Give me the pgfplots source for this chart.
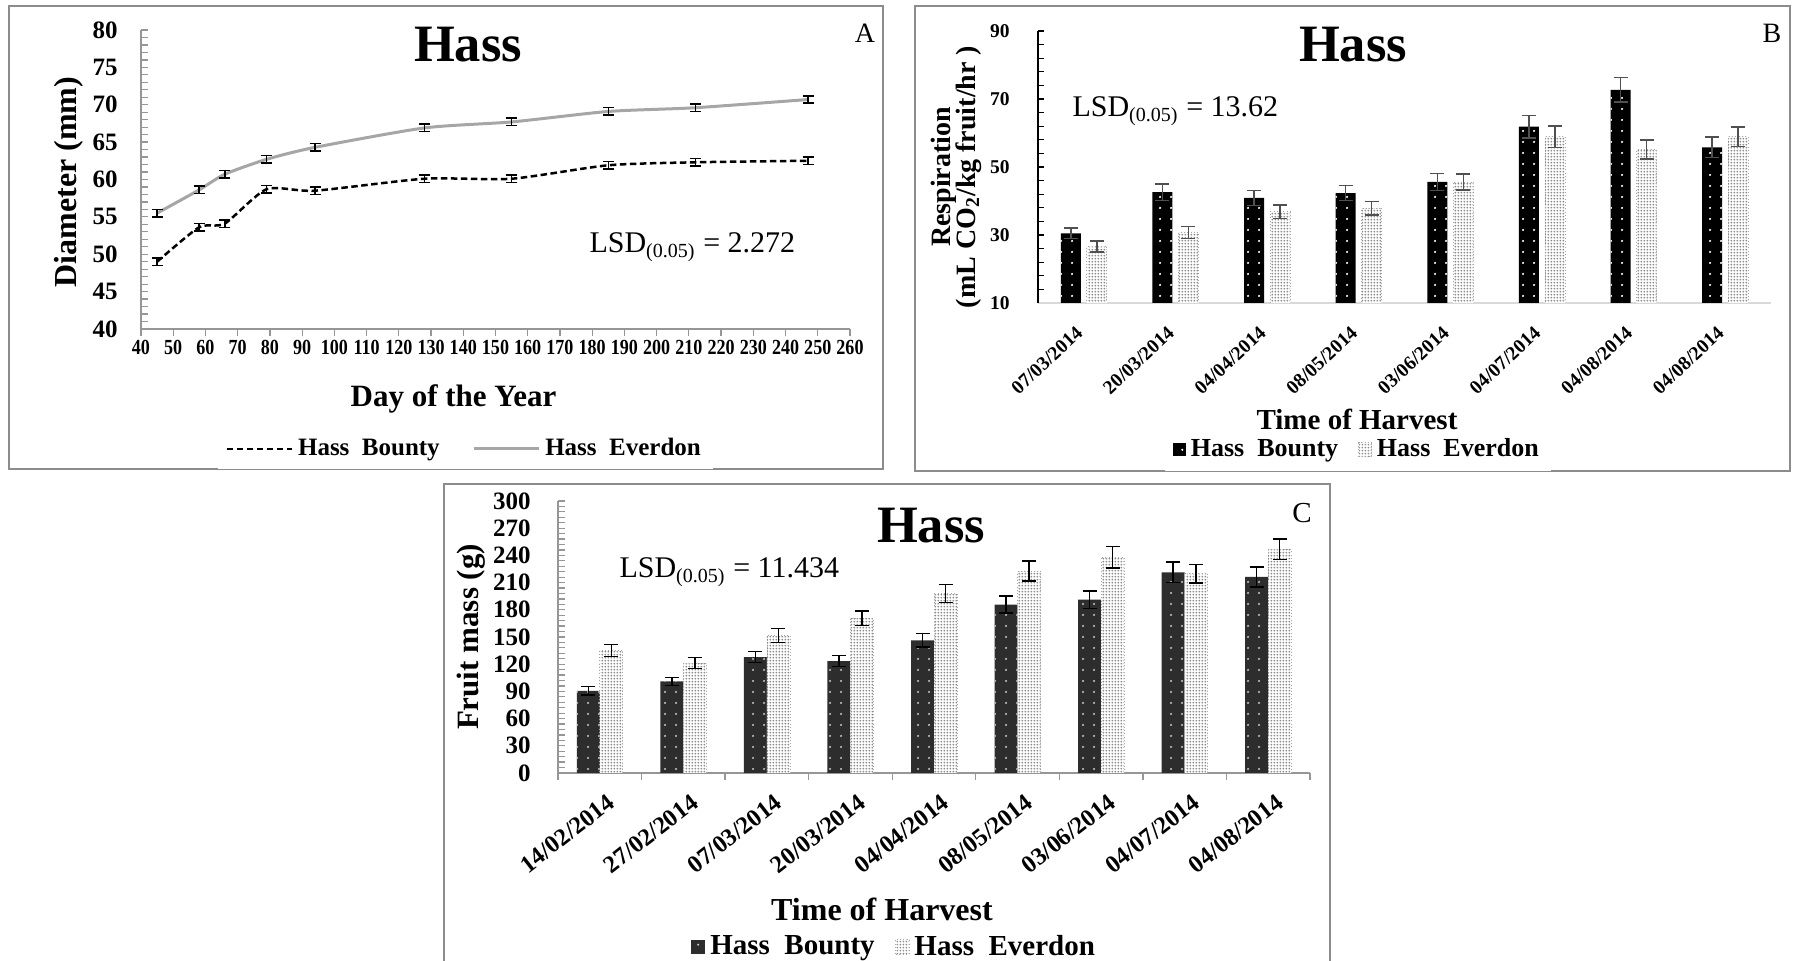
\documentclass[border=0pt]{standalone}
\usepackage{pgfplots}
\pgfplotsset{compat=1.18}
\usepackage{graphicx}
\usepackage{fontspec}
\setmainfont{Liberation Serif}
\usetikzlibrary{patterns}
\definecolor{framegray}{RGB}{140,140,140}
\definecolor{axisgray}{RGB}{150,150,150}
\definecolor{linegray}{RGB}{166,166,166}
\definecolor{ebgray}{RGB}{80,80,80}
\definecolor{cdark}{RGB}{45,45,45}
\pgfdeclarepatternformonly{sparsedots}{\pgfqpoint{0pt}{0pt}}{\pgfqpoint{4.4pt}{4.4pt}}{\pgfqpoint{4.4pt}{4.4pt}}{\pgfpathcircle{\pgfqpoint{2.2pt}{2.2pt}}{0.5pt}\pgfusepath{fill}}
\pgfdeclarepatternformonly{densedots}{\pgfqpoint{0pt}{0pt}}{\pgfqpoint{1.3pt}{1.3pt}}{\pgfqpoint{1.3pt}{1.3pt}}{\pgfpathcircle{\pgfqpoint{0.65pt}{0.65pt}}{0.46pt}\pgfusepath{fill}}
\newcommand\fs[1]{\fontsize{#1}{#1}\selectfont}
\begin{document}
\begin{tikzpicture}
\useasboundingbox (0,0) rectangle (717.6pt,384.4pt);
% frames
\draw[framegray, line width=0.8pt] (3.6pt,196.8pt) rectangle (353.2pt,382pt);
\draw[framegray, line width=0.8pt] (366pt,196pt) rectangle (716pt,382pt);
\draw[framegray, line width=0.8pt] (177.6pt,-2pt) -- (177.6pt,190.8pt) -- (532pt,190.8pt) -- (532pt,-2pt);

% ---------------- Panel A ----------------
\begin{axis}[at={(56.4pt,252.8pt)}, anchor=south west, scale only axis,
  width=283.6pt, height=119.6pt,
  xmin=40, xmax=260, ymin=40, ymax=80,
  axis lines*=left, axis line style={axisgray, line width=0.6pt},
  xtick={40,50,...,260}, ytick={40,45,...,80}, minor y tick num=4,
  xtick align=outside, ytick align=inside,
  tick style={axisgray, line width=0.5pt},
  major tick length=2.8pt, minor tick length=2.8pt,
  /pgf/number format/assume math mode=true,
  xticklabel={\scalebox{0.84}[1]{\pgfmathprintnumber{\tick}}},
  x tick label style={font=\bfseries\fs{8.6}, inner sep=0pt, anchor=north, yshift=-1.6pt},
  y tick label style={font=\bfseries\fs{10}, inner sep=0pt, anchor=east, xshift=-9.2pt},
  legend columns=2,
  legend style={draw=none, at={(0.458,-0.401)}, anchor=center, font=\bfseries\fs{10},
    /tikz/every even column/.append style={column sep=11pt}},
  legend image code/.code={\draw[#1] (0pt,0pt) -- (26pt,0pt);},
  error bars/y dir=both, error bars/y explicit,
  error bars/error bar style={black, solid, line width=0.6pt},
  error bars/error mark options={black, solid, rotate=90, mark size=2.2pt, line width=0.6pt},
]
\addplot[black, line width=1pt, dash pattern=on 2.6pt off 1.4pt, smooth, tension=0.4, mark=none]
  coordinates {(45,49.0) +- (0,0.5) (58,53.6) +- (0,0.5) (66,54.1) +- (0,0.5) (79,58.7) +- (0,0.5) (94,58.5) +- (0,0.5)
  (128,60.1) +- (0,0.5) (155,60.1) +- (0,0.5) (185,61.9) +- (0,0.5) (212,62.3) +- (0,0.5) (247,62.5) +- (0,0.5)};
\addlegendentry{Hass~~Bounty}
\addplot[linegray, line width=1.2pt, smooth, tension=0.4, mark=none]
  coordinates {(45,55.5) +- (0,0.5) (58,58.6) +- (0,0.5) (66,60.7) +- (0,0.5) (79,62.7) +- (0,0.5) (94,64.3) +- (0,0.5)
  (128,66.9) +- (0,0.5) (155,67.7) +- (0,0.5) (185,69.1) +- (0,0.5) (212,69.6) +- (0,0.5) (247,70.7) +- (0,0.5)};
\addlegendentry{Hass~~Everdon}
\end{axis}

% ---------------- Panel B ----------------
\begin{axis}[at={(415.2pt,263.2pt)}, anchor=south west, scale only axis,
  width=293.2pt, height=108.8pt,
  xmin=-0.5, xmax=7.5, ymin=10, ymax=90,
  axis lines*=left,
  x axis line style={gray!30, line width=0.6pt},
  y axis line style={black, line width=0.6pt},
  ytick={10,30,...,90}, minor y tick num=4, ytick align=inside,
  y tick style={black, line width=0.5pt},
  major tick length=2.4pt, minor tick length=2.4pt,
  xtick={0,...,7}, x tick style={draw=none},
  xticklabels={07/03/2014,20/03/2014,04/04/2014,08/05/2014,03/06/2014,04/07/2014,04/08/2014,04/08/2014},
  /pgf/number format/assume math mode=true,
  x tick label style={font=\bfseries\fs{7.8}, inner sep=0pt, xshift=-3.6pt, yshift=-6.2pt, rotate=43, anchor=north east},
  y tick label style={font=\bfseries\fs{7.8}, inner sep=0pt, anchor=east, xshift=-11.2pt},
  ybar, bar width=8pt,
  legend columns=2,
  legend style={draw=none, at={(0.437,-0.54)}, anchor=center, font=\bfseries\fs{10.4},
    /tikz/every even column/.append style={column sep=6pt}},
  legend image code/.code={\path[#1] (0pt,-2.6pt) rectangle (5.2pt,2.8pt);},
  error bars/y dir=both, error bars/y explicit,
  error bars/error bar style={ebgray, solid, line width=0.6pt},
  error bars/error mark options={ebgray, solid, rotate=90, mark size=2.8pt, line width=0.6pt},
]
\addplot[bar shift=-5.2pt, fill=black, draw=none, postaction={pattern=sparsedots, pattern color=white}]
  coordinates {(0,30.5) +- (0,1.6) (1,42.6) +- (0,2.4) (2,40.9) +- (0,2.2) (3,42.3) +- (0,2.2)
  (4,45.6) +- (0,2.5) (5,61.9) +- (0,3.3) (6,72.7) +- (0,3.6) (7,55.8) +- (0,3.0)};
\addlegendentry{Hass~~Bounty}
\addplot[bar shift=5.2pt, fill=white, draw=gray!70, densely dotted, line width=0.3pt, postaction={pattern=densedots, pattern color=gray!90}]
  coordinates {(0,26.6) +- (0,1.6) (1,30.7) +- (0,1.8) (2,36.8) +- (0,2.0) (3,37.9) +- (0,2.0)
  (4,45.6) +- (0,2.4) (5,58.9) +- (0,3.1) (6,55.2) +- (0,2.8) (7,58.9) +- (0,2.9)};
\addlegendentry{Hass~~Everdon}
\end{axis}

% ---------------- Panel C ----------------
\begin{axis}[at={(223.2pt,75.2pt)}, anchor=south west, scale only axis,
  width=300.8pt, height=108.8pt,
  xmin=-0.5, xmax=8.5, ymin=0, ymax=300,
  axis lines*=left, axis line style={axisgray, line width=0.6pt},
  ytick={0,30,...,300}, minor y tick num=4, ytick align=inside, xtick align=outside,
  tick style={axisgray, line width=0.5pt},
  major tick length=2.8pt, minor tick length=2.8pt,
  xtick={0,...,8}, major x tick style={draw=none},
  minor xtick={-0.5,0.5,...,8.5}, minor x tick style={axisgray, line width=0.5pt},
  xticklabels={14/02/2014,27/02/2014,07/03/2014,20/03/2014,04/04/2014,08/05/2014,03/06/2014,04/07/2014,04/08/2014},
  /pgf/number format/assume math mode=true,
  x tick label style={font=\bfseries\fs{9.8}, inner sep=0pt, xshift=2.6pt, yshift=-4.8pt, rotate=38, anchor=north east},
  y tick label style={font=\bfseries\fs{10}, inner sep=0pt, anchor=east, xshift=-10.8pt},
  ybar, bar width=9.2pt,
  legend columns=2,
  legend style={draw=none, at={(0.449,-0.64)}, anchor=center, font=\bfseries\fs{11.6},
    /tikz/every even column/.append style={column sep=6pt}},
  legend image code/.code={\path[#1] (0pt,-2.8pt) rectangle (5.6pt,3pt);},
  error bars/y dir=both, error bars/y explicit,
  error bars/error bar style={black, solid, line width=0.6pt},
  error bars/error mark options={black, solid, rotate=90, mark size=2.8pt, line width=0.6pt},
]
\addplot[bar shift=-4.6pt, fill=cdark, draw=none, postaction={pattern=sparsedots, pattern color=gray!50}]
  coordinates {(0,90.6) +- (0,4.8) (1,101) +- (0,4.4) (2,127.9) +- (0,6.3) (3,123.5) +- (0,6.3) (4,146.3) +- (0,7.4)
  (5,185.8) +- (0,9.6) (6,191.3) +- (0,9.6) (7,221.4) +- (0,11.2) (8,216.2) +- (0,11)};
\addlegendentry{Hass~~Bounty}
\addplot[bar shift=4.6pt, fill=white, draw=gray!70, densely dotted, line width=0.3pt, postaction={pattern=densedots, pattern color=gray!90}]
  coordinates {(0,135.3) +- (0,6.6) (1,121.3) +- (0,6.3) (2,151.9) +- (0,7.7) (3,170.7) +- (0,8.1) (4,197.9) +- (0,10)
  (5,222.6) +- (0,11) (6,238.1) +- (0,11.8) (7,219.8) +- (0,10.3) (8,246.8) +- (0,11.4)};
\addlegendentry{Hass~~Everdon}
\end{axis}

% ---------------- Texts ----------------
\begin{scope}[every node/.style={inner sep=0pt}]
\node[anchor=base, font=\bfseries\fs{21}] at (187.2pt,359.6pt) {Hass};
\node[anchor=base, font=\fs{11.2}] at (346pt,367.2pt) {A};
\node[anchor=base west, font=\fs{12}] at (235.6pt,283.2pt) {LSD\textsubscript{(0.05)} = 2.272};
\node[anchor=base, rotate=90, font=\bfseries\fs{12.8}] at (30.4pt,311.6pt) {Diameter (mm)};
\node[anchor=base, font=\bfseries\fs{12.4}] at (181.4pt,221.6pt) {Day of the Year};

\node[anchor=base, font=\bfseries\fs{21}] at (541.2pt,359.6pt) {Hass};
\node[anchor=base, font=\fs{11.2}] at (708.8pt,367.2pt) {B};
\node[anchor=base west, font=\fs{12}] at (428.8pt,337.6pt) {LSD\textsubscript{(0.05)} = 13.62};
\node[anchor=base, rotate=90, font=\bfseries\fs{11.2}] at (380pt,313.6pt) {Respiration};
\node[anchor=base, rotate=90, font=\bfseries\fs{11.2}] at (390pt,313.6pt) {(mL CO\textsubscript{2}/kg fruit/hr )};
\node[anchor=base, font=\bfseries\fs{11.6}] at (542.8pt,212.4pt) {Time of Harvest};

\node[anchor=base, font=\bfseries\fs{21}] at (372.4pt,167.2pt) {Hass};
\node[anchor=base, font=\fs{11.6}] at (520.8pt,175.2pt) {C};
\node[anchor=base west, font=\fs{12}] at (247.6pt,153.2pt) {LSD\textsubscript{(0.05)} = 11.434};
\node[anchor=base, rotate=90, font=\bfseries\fs{12.4}] at (191.2pt,129.6pt) {Fruit mass (g)};
\node[anchor=base, font=\bfseries\fs{12.8}] at (352.8pt,16pt) {Time of Harvest};
\end{scope}
\end{tikzpicture}
\end{document}
